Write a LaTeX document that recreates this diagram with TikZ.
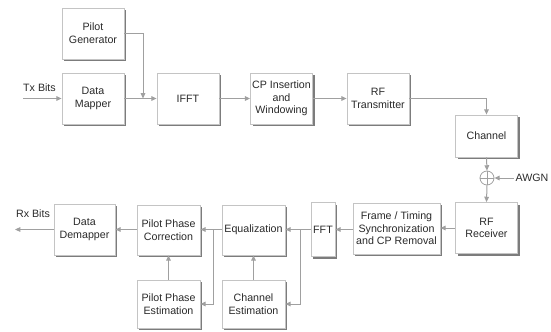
\documentclass[tikz,border=0pt]{standalone}
\usepackage{fontspec}
\setmainfont{Liberation Sans}
\usetikzlibrary{arrows.meta,shadows}

\definecolor{linegray}{HTML}{A0A0A0}
\definecolor{edgegray}{HTML}{C4C4C4}
\definecolor{shadegray}{HTML}{7C7C7C}
\definecolor{textgray}{HTML}{2A2A2A}

\begin{document}
\begin{tikzpicture}[
    x=0.75pt, y=-0.75pt,
    font=\fontsize{8}{9.5}\selectfont, text=textgray,
    blk/.style={rectangle, draw=edgegray, line width=0.6pt, fill=white,
                minimum width=46.5pt, minimum height=38.25pt, inner sep=1pt, align=center,
                drop shadow={shadow xshift=1.5pt, shadow yshift=-1.5pt, fill=shadegray, opacity=1}},
    arr/.style={-{Triangle[length=4pt,width=3.5pt]}, linegray, line width=0.75pt},
    ln/.style={linegray, line width=0.75pt},
    lbl/.style={inner sep=1pt}
]
\useasboundingbox (0,0) rectangle (551,332);

% ---- Transmitter ----
\node[blk] (pg) at (93,33.5) {Pilot\\Generator};
\node[blk] (dm) at (93,98.5) {Data\\Mapper};
\node[blk] (ifft) at (188,98.5) {IFFT};
\node[blk] (cp) at (281.5,98.5) {CP Insertion\\and\\Windowing};
\node[blk] (rftx) at (378,98.5) {RF\\Transmitter};

% ---- Channel ----
\node[blk, minimum height=31.5pt] (ch) at (486.5,136) {Channel};
\node[circle, draw=linegray, line width=0.6pt, minimum size=10.5pt, inner sep=0pt] (sum) at (487,178) {};
\draw[ln] (sum.north) -- (sum.south);
\draw[ln] (sum.west) -- (sum.east);
\node[lbl, anchor=west] (awgn) at (514,178) {AWGN};

% ---- Receiver ----
\node[blk] (rfrx) at (486.5,228) {RF\\Receiver};
\node[blk, minimum width=65.25pt] (sync) at (396.5,228.5) {Frame / Timing\\Synchronization\\and CP Removal};
\node[blk, minimum width=18pt, minimum height=40.5pt, inner sep=0pt] (fft) at (323,229.5) {FFT};
\node[blk, minimum width=47.25pt, minimum height=37.5pt] (eq) at (253.5,230) {Equalization};
\node[blk, minimum width=47.25pt, minimum height=37.5pt] (ppc) at (168.5,230) {Pilot Phase\\Correction};
\node[blk, minimum width=45.75pt] (ddm) at (84.5,229.5) {Data\\Demapper};
\node[blk, minimum width=47.25pt, minimum height=36pt] (ppe) at (168.5,304) {Pilot Phase\\Estimation};
\node[blk, minimum width=47.25pt, minimum height=36pt] (ce) at (253.5,304) {Channel\\Estimation};

% ---- Inputs and outputs ----
\coordinate (txin) at (23,98.5);
\node[lbl] (txl) at (39.5,88) {Tx Bits};
\coordinate (rxout) at (15,229.5);
\node[lbl] (rxl) at (33,214) {Rx Bits};

% ---- Tx connectors ----
\coordinate (pj) at (143,98.5);
\draw[arr] (txin) -- (dm.west);
\draw[arr] (dm.east) -- (ifft.west);
\draw[arr] (pg.east) -| (pj);
\draw[arr] (ifft.east) -- (cp.west);
\draw[arr] (cp.east) -- (rftx.west);
\draw[arr] (rftx.east) -| (ch.north);
\draw[arr] (ch.south) -- (sum.north);
\draw[arr] (awgn.west) -- (sum.east);
\draw[arr] (sum.south) -- (rfrx.north);

% ---- Rx connectors ----
\coordinate (b1) at (300,229.5);
\coordinate (b2) at (213,229.5);
\draw[arr] (rfrx.west) -- (sync.east |- rfrx.west);
\draw[arr] (sync.west |- fft.east) -- (fft.east);
\draw[arr] (fft.west) -- (eq.east |- fft.west);
\draw[arr] (b1) |- (ce.east);
\draw[arr] (ce.north) -- (eq.south);
\draw[arr] (eq.west |- b2) -- (ppc.east |- b2);
\draw[arr] (b2) |- (ppe.east);
\draw[arr] (ppe.north) -- (ppc.south);
\draw[arr] (ppc.west |- rxout) -- (ddm.east |- rxout);
\draw[arr] (ddm.west |- rxout) -- (rxout);

\end{tikzpicture}
\end{document}
